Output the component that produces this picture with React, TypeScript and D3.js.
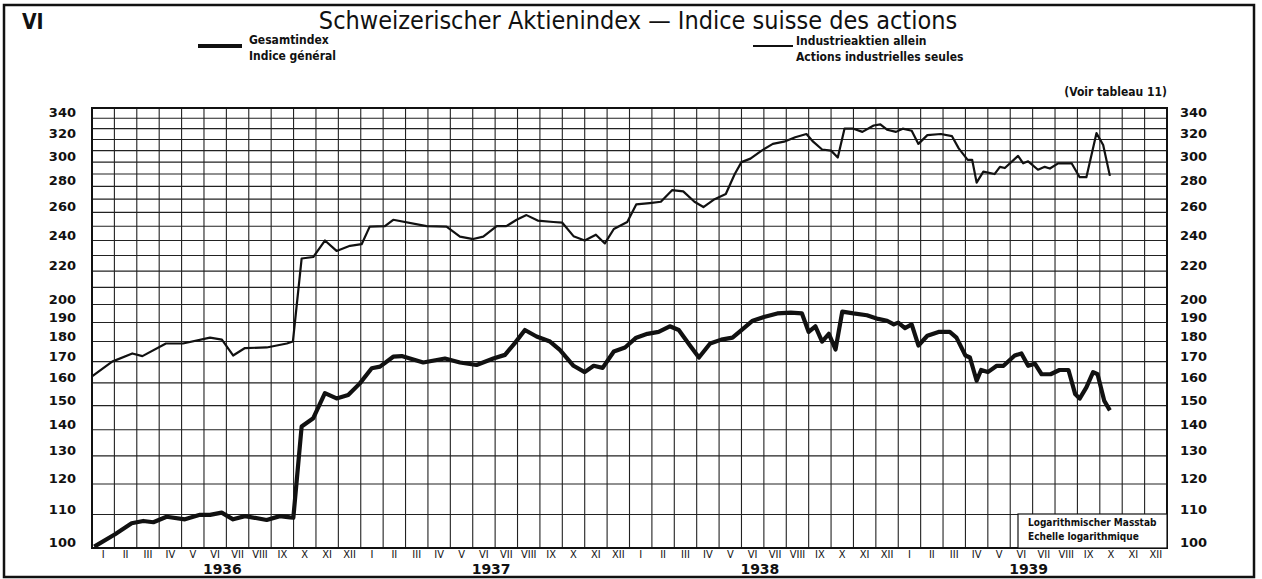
import React from "react";
import * as d3 from "d3";

// ---- data (month index: 0 = start of Jan 1936, 48 = end of Dec 1939) ----
const monthLabels = ["I", "II", "III", "IV", "V", "VI", "VII", "VIII", "IX", "X", "XI", "XII"];
const years = [1936, 1937, 1938, 1939];
const yLabelValues = [100, 110, 120, 130, 140, 150, 160, 170, 180, 190, 200, 220, 240, 260, 280, 300, 320, 340];
const gridValues = [100, 110, 120, 130, 140, 150, 160, 170, 180, 190, 200, 210, 220, 230, 240, 250, 260, 270, 280, 290, 300, 310, 320, 330, 340, 350];

const gesamtMonths = [0.1, 1.03, 1.77, 2.29, 2.74, 3.33, 4.15, 4.82, 5.27, 5.79, 6.3, 6.83, 7.8, 8.39, 8.84, 8.99,
  9.36, 9.88, 10.4, 10.92, 11.44, 11.96, 12.49, 12.86, 13.45, 13.83, 14.79, 15.76, 16.43, 17.17, 17.92, 18.44, 18.88,
  19.33, 19.85, 20.45, 20.89, 21.5, 22.0, 22.4, 22.8, 23.3, 23.8, 24.3, 24.8, 25.3, 25.8, 26.2, 26.7, 27.1, 27.6,
  28.1, 28.6, 29.0, 29.5, 30.0, 30.6, 31.2, 31.7, 32.0, 32.3, 32.6, 32.9, 33.2, 33.5, 34.0, 34.6, 35.1, 35.5, 35.8,
  36.0, 36.3, 36.6, 36.9, 37.3, 37.8, 38.3, 38.6, 39.0, 39.2, 39.5, 39.7, 40.0, 40.4, 40.7, 41.2, 41.5, 41.8, 42.1,
  42.4, 42.8, 43.2, 43.6, 43.9, 44.1, 44.4, 44.7, 44.9, 45.2, 45.45];
const gesamtValues = [100.4, 104, 107.3, 108, 107.6, 109.3, 108.5, 109.9, 109.9, 110.6, 108.5, 109.5, 108.3, 109.5, 109.1, 109,
  141.3, 144.7, 155.4, 153.1, 154.6, 159.8, 166.8, 167.6, 172.4, 172.7, 169.6, 171.5, 169.6, 168.4, 171.5, 173.3, 179.2,
  186, 182.6, 180, 175.8, 168, 165, 168, 167, 175, 177, 182, 184, 185, 188, 186, 178, 172, 179,
  181, 182, 186, 191, 193, 195, 195.5, 195, 185, 188, 180, 184, 176, 196, 195, 194, 192, 191, 189,
  190, 187, 189, 178, 183, 185, 185, 182, 173, 172, 161, 166, 165, 168, 168, 173, 174, 168, 169,
  164, 164, 166, 166, 155, 153, 158, 165, 164, 152, 148];

const industrieMonths = [0, 0.9, 1.8, 2.25, 3.3, 4.06, 5.27, 5.8, 6.3, 6.83, 7.8, 8.7, 8.97,
  9.36, 9.88, 10.4, 10.92, 11.52, 12.04, 12.4, 13.08, 13.45, 14.94, 15.83, 16.43, 17.02, 17.47, 18.07, 18.5, 18.96,
  19.4, 19.9, 20.6, 21.0, 21.5, 22.0, 22.5, 22.9, 23.3, 23.9, 24.3, 24.9, 25.4, 25.9, 26.4, 26.9, 27.3, 27.8, 28.3,
  28.7, 29.0, 29.4, 29.9, 30.4, 30.9, 31.4, 31.9, 32.2, 32.6, 33.0, 33.3, 33.6, 34.0, 34.4, 34.9, 35.2, 35.5, 35.9,
  36.2, 36.6, 36.9, 37.3, 37.9, 38.4, 38.7, 39.1, 39.3, 39.5, 39.8, 40.3, 40.54, 40.76, 41.35, 41.58, 41.8, 42.24,
  42.54, 42.77, 43.14, 43.74, 44.1, 44.4, 44.85, 45.15, 45.45];
const industrieValues = [163, 170, 174, 172.7, 179, 179, 182, 181, 173, 176.7, 177, 179, 180,
  228, 229, 240, 233, 236.4, 237.5, 249.7, 250, 254.6, 250, 249.7, 242.7, 241, 242.7, 250, 250, 254.6,
  258, 254, 253, 252.5, 243, 240, 244, 238, 248, 253, 266, 267, 268, 277, 276, 268, 264, 270, 274,
  290, 300, 303, 310, 316, 318, 322, 325, 318, 311, 310, 304, 330, 330, 327, 333, 334, 329, 327,
  330, 328, 316, 324, 325, 323, 312, 302, 302, 283, 292, 290, 296, 295, 305.4, 299, 300.7, 293.6,
  296, 294.6, 299, 299, 287.4, 287.4, 325.8, 315, 288.5];

const W = 1262;
const H = 579;
const PL = 92, PR = 1167, PT = 108, PB = 548;

export default function App() {
  const x = d3.scaleLinear().domain([0, 48]).range([PL, PR]);
  const y = d3.scaleLog().domain([100, 350]).range([PB, PT]);
  const line = d3.line<[number, number]>().x((d) => x(d[0])).y((d) => y(d[1])).curve(d3.curveLinear);

  const gesamt = gesamtMonths.map((m, i) => [m, gesamtValues[i]] as [number, number]);
  const industrie = industrieMonths.map((m, i) => [m, industrieValues[i]] as [number, number]);

  const monthIdx = d3.range(0, 48);
  const numFont = "'DejaVu Sans', Lato, sans-serif";
  const narrow = "'Liberation Sans Narrow', 'DejaVu Sans Condensed', 'Arial Narrow', sans-serif";

  return (
    <svg width={W} height={H} style={{ position: "absolute", left: 0, top: 0, background: "#fff" }}>
      <rect x={0} y={0} width={W} height={H} fill="#fff" />
      {/* outer frame */}
      <rect x={4} y={5} width={1250} height={572} fill="none" stroke="#111" strokeWidth={2.5} />

      <text x={22} y={29} fontFamily={narrow} fontWeight="bold" fontSize={21} fill="#111">VI</text>
      <text x={638} y={29} textAnchor="middle" fontFamily={narrow} fontSize={25} fill="#111">
        Schweizerischer Aktienindex — Indice suisse des actions
      </text>

      {/* legend */}
      <line x1={198} x2={242} y1={46} y2={46} stroke="#111" strokeWidth={4} />
      <text x={249} y={44} fontFamily={narrow} fontWeight="bold" fontSize={12} fill="#111">Gesamtindex</text>
      <text x={249} y={60} fontFamily={narrow} fontWeight="bold" fontSize={12} fill="#111">Indice général</text>
      <line x1={753} x2={793} y1={46} y2={46} stroke="#111" strokeWidth={2} />
      <text x={796} y={45} fontFamily={narrow} fontWeight="bold" fontSize={12} fill="#111">Industrieaktien allein</text>
      <text x={796} y={61} fontFamily={narrow} fontWeight="bold" fontSize={12} fill="#111">Actions industrielles seules</text>
      <text x={PR} y={96} textAnchor="end" fontFamily={narrow} fontWeight="bold" fontSize={12} fill="#111">(Voir tableau 11)</text>

      {/* horizontal grid */}
      {gridValues.map((v) => (
        <line key={"h" + v} x1={PL} x2={PR} y1={y(v)} y2={y(v)} stroke="#222" strokeWidth={1.1} />
      ))}
      {/* vertical grid */}
      {monthIdx.map((m) => (
        <line key={"v" + m} x1={x(m)} x2={x(m)} y1={PT} y2={PB} stroke="#222" strokeWidth={1.1} />
      ))}
      <rect x={PL} y={PT} width={PR - PL} height={PB - PT} fill="none" stroke="#111" strokeWidth={2} />

      {/* y labels */}
      {yLabelValues.map((v) => (
        <g key={"yl" + v}>
          <text x={76} y={y(v) - 1} textAnchor="end" fontFamily={numFont} fontWeight="bold" fontSize={13} fill="#111">{v}</text>
          <text x={1180} y={y(v) - 1} textAnchor="start" fontFamily={numFont} fontWeight="bold" fontSize={13} fill="#111">{v}</text>
        </g>
      ))}

      {/* note box */}
      <rect x={1018} y={514} width={PR - 1018} height={PB - 514} fill="#fff" stroke="#111" strokeWidth={1.2} />
      <text x={1028} y={526} fontFamily={narrow} fontWeight="bold" fontSize={10} fill="#111">Logarithmischer Masstab</text>
      <text x={1028} y={540} fontFamily={narrow} fontWeight="bold" fontSize={10} fill="#111">Echelle logarithmique</text>

      {/* series */}
      <path d={line(industrie) || ""} fill="none" stroke="#111" strokeWidth={2.2} strokeLinejoin="round" />
      <path d={line(gesamt) || ""} fill="none" stroke="#111" strokeWidth={4.2} strokeLinejoin="round" />

      {/* month labels */}
      {monthIdx.map((m) => (
        <text key={"ml" + m} x={x(m + 0.5)} y={558} textAnchor="middle" fontFamily={narrow} fontSize={11} fill="#111">
          {monthLabels[m % 12]}
        </text>
      ))}
      {years.map((yr, i) => (
        <text key={"yr" + yr} x={x(i * 12 + 6) - 4} y={574} textAnchor="middle" fontFamily={numFont} fontWeight="bold" fontSize={14} fill="#111">
          {yr}
        </text>
      ))}
    </svg>
  );
}
